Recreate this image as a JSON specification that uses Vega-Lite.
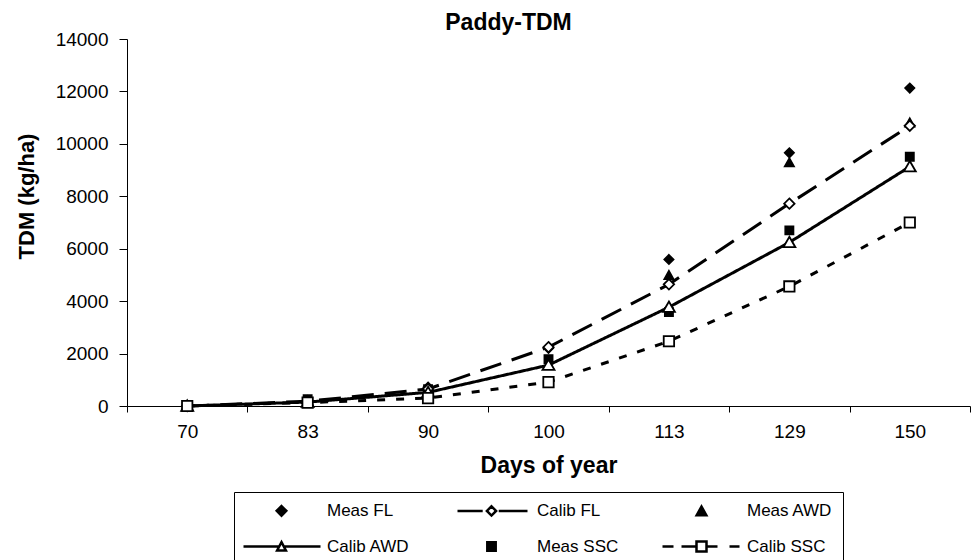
{
  "$schema": "https://vega.github.io/schema/vega-lite/v6.json",
  "width": 843,
  "height": 367,
  "autosize": {"type": "none"},
  "padding": {"left": 127, "top": 39, "right": 4, "bottom": 154},
  "background": "white",
  "config": {"view": {"stroke": null}, "font": "Liberation Sans"},
  "title": {"text": "Paddy-TDM", "fontSize": 23, "fontWeight": "bold", "font": "Liberation Sans", "color": "black", "anchor": "middle", "frame": "group", "dx": -40, "offset": -23, "baseline": "alphabetic"},
  "data": {"values": [
    {"day": 70, "series": "Meas FL", "tdm": 0},
    {"day": 83, "series": "Meas FL", "tdm": 200},
    {"day": 90, "series": "Meas FL", "tdm": 720},
    {"day": 100, "series": "Meas FL", "tdm": 2200},
    {"day": 113, "series": "Meas FL", "tdm": 5590},
    {"day": 129, "series": "Meas FL", "tdm": 9660},
    {"day": 150, "series": "Meas FL", "tdm": 12130},
    {"day": 70, "series": "Calib FL", "tdm": 0},
    {"day": 83, "series": "Calib FL", "tdm": 180},
    {"day": 90, "series": "Calib FL", "tdm": 650},
    {"day": 100, "series": "Calib FL", "tdm": 2245},
    {"day": 113, "series": "Calib FL", "tdm": 4640},
    {"day": 129, "series": "Calib FL", "tdm": 7720},
    {"day": 150, "series": "Calib FL", "tdm": 10690},
    {"day": 70, "series": "Meas AWD", "tdm": 0},
    {"day": 83, "series": "Meas AWD", "tdm": 180},
    {"day": 90, "series": "Meas AWD", "tdm": 650},
    {"day": 100, "series": "Meas AWD", "tdm": 1580},
    {"day": 113, "series": "Meas AWD", "tdm": 4980},
    {"day": 129, "series": "Meas AWD", "tdm": 9280},
    {"day": 150, "series": "Meas AWD", "tdm": 10800},
    {"day": 70, "series": "Calib AWD", "tdm": 0},
    {"day": 83, "series": "Calib AWD", "tdm": 150},
    {"day": 90, "series": "Calib AWD", "tdm": 520},
    {"day": 100, "series": "Calib AWD", "tdm": 1560},
    {"day": 113, "series": "Calib AWD", "tdm": 3770},
    {"day": 129, "series": "Calib AWD", "tdm": 6240},
    {"day": 150, "series": "Calib AWD", "tdm": 9130},
    {"day": 70, "series": "Meas SSC", "tdm": 0},
    {"day": 83, "series": "Meas SSC", "tdm": 260},
    {"day": 90, "series": "Meas SSC", "tdm": 640},
    {"day": 100, "series": "Meas SSC", "tdm": 1790},
    {"day": 113, "series": "Meas SSC", "tdm": 3580},
    {"day": 129, "series": "Meas SSC", "tdm": 6700},
    {"day": 150, "series": "Meas SSC", "tdm": 9510},
    {"day": 70, "series": "Calib SSC", "tdm": 0},
    {"day": 83, "series": "Calib SSC", "tdm": 130},
    {"day": 90, "series": "Calib SSC", "tdm": 300},
    {"day": 100, "series": "Calib SSC", "tdm": 910},
    {"day": 113, "series": "Calib SSC", "tdm": 2470},
    {"day": 129, "series": "Calib SSC", "tdm": 4560},
    {"day": 150, "series": "Calib SSC", "tdm": 7000}
  ]},
  "encoding": {
    "x": {
      "field": "day", "type": "ordinal",
      "scale": {"type": "band", "paddingInner": 0, "paddingOuter": 0},
      "axis": {
        "title": "Days of year", "titleFontSize": 23, "titleFontWeight": "bold", "titleColor": "black", "titleFont": "Liberation Sans",
        "titleBaseline": "alphabetic", "titleY": 66,
        "labelFontSize": 19, "labelFont": "Liberation Sans", "labelColor": "black", "labelAngle": 0,
        "labelBaseline": "alphabetic", "labelPadding": 25,
        "tickBand": "extent", "tickSize": 6, "tickColor": "black", "domainColor": "black", "grid": false
      }
    },
    "y": {
      "field": "tdm", "type": "quantitative",
      "scale": {"domain": [0, 14000], "nice": false},
      "axis": {
        "title": "TDM (kg/ha)", "titleFontSize": 22, "titleFontWeight": "bold", "titleColor": "black", "titleFont": "Liberation Sans",
        "titleBaseline": "alphabetic", "titleX": -94, "titleY": 157,
        "values": [0, 2000, 4000, 6000, 8000, 10000, 12000, 14000], "format": "d",
        "labelFontSize": 19, "labelFont": "Liberation Sans", "labelColor": "black", "labelPadding": 11,
        "tickSize": 8, "tickColor": "black", "domainColor": "black", "grid": false
      }
    }
  },
  "layer": [
    {
      "transform": [{"filter": "indexof(datum.series, 'Calib') == 0"}],
      "mark": {"type": "line", "color": "black", "strokeWidth": 3},
      "encoding": {
        "detail": {"field": "series", "type": "nominal"},
        "strokeDash": {"field": "series", "type": "nominal", "legend": null,
          "scale": {"domain": ["Calib FL", "Calib AWD", "Calib SSC"], "range": [[22, 11], [1, 0], [8, 11]]}}
      }
    },
    {
      "transform": [{"filter": "indexof(datum.series, 'Meas') == 0"}],
      "mark": {"type": "point", "filled": true, "size": 64, "opacity": 1, "strokeWidth": 1.5},
      "encoding": {
        "shape": {"field": "series", "type": "nominal",
          "scale": {
            "domain": ["Meas FL", "Calib FL", "Meas AWD", "Calib AWD", "Meas SSC", "Calib SSC"],
            "range": [
              "M-9.75,0M9.75,0M0,-1.2L1.2,0L0,1.2L-1.2,0Z",
              "M-9.75,0M9.75,0M-8.5,0L-2.2,0M1.8,0L9,0M0,-1.15L1.15,0L0,1.15L-1.15,0Z",
              "M-9.75,0M9.75,0M0,-1.2L1.2,0.95L-1.2,0.95Z",
              "M-9.75,0M9.75,0M-9.5,0L-0.6,0M0.6,0L9.75,0M0,-1.1L1.1,1L-1.1,1Z",
              "M-9.75,0M9.75,0M-1.05,-1.05L1.05,-1.05L1.05,1.05L-1.05,1.05Z",
              "M9.75,0M-9.75,0L-7,0M-5,0L-1.25,0M1.25,0L4,0M7,0L9.5,0M-1.25,-1.25L1.25,-1.25L1.25,1.25L-1.25,1.25Z"
            ]
          },
          "legend": {"title": null, "orient": "none", "legendX": 107, "legendY": 453, "columns": 3, "direction": "horizontal",
            "padding": 10, "strokeColor": "black", "fillColor": "white",
            "labelFontSize": 17, "labelFont": "Liberation Sans", "labelColor": "black", "labelOffset": 37, "symbolOffset": 29,
            "symbolSize": 64, "gridAlign": "all", "columnPadding": 34, "rowPadding": 15,
            "symbolStrokeColor": "black", "symbolStrokeWidth": 2.5}
        },
        "fill": {"field": "series", "type": "nominal",
          "scale": {
            "domain": ["Meas FL", "Calib FL", "Meas AWD", "Calib AWD", "Meas SSC", "Calib SSC"],
            "range": ["black", "white", "black", "white", "black", "white"]
          },
          "legend": {"title": null, "orient": "none", "legendX": 107, "legendY": 453, "columns": 3, "direction": "horizontal",
            "padding": 10, "strokeColor": "black", "fillColor": "white",
            "labelFontSize": 17, "labelFont": "Liberation Sans", "labelColor": "black", "labelOffset": 37, "symbolOffset": 29,
            "symbolSize": 64, "gridAlign": "all", "columnPadding": 34, "rowPadding": 15,
            "symbolStrokeColor": "black", "symbolStrokeWidth": 2.5}
        },
        "stroke": {"field": "series", "type": "nominal",
          "scale": {
            "domain": ["Meas FL", "Calib FL", "Meas AWD", "Calib AWD", "Meas SSC", "Calib SSC"],
            "range": ["black", "black", "black", "black", "black", "black"]
          },
          "legend": {"title": null, "orient": "none", "legendX": 107, "legendY": 453, "columns": 3, "direction": "horizontal",
            "padding": 10, "strokeColor": "black", "fillColor": "white",
            "labelFontSize": 17, "labelFont": "Liberation Sans", "labelColor": "black", "labelOffset": 37, "symbolOffset": 29,
            "symbolSize": 64, "gridAlign": "all", "columnPadding": 34, "rowPadding": 15,
            "symbolStrokeColor": "black", "symbolStrokeWidth": 2.5}
        }
      }
    },
    {
      "transform": [{"filter": "datum.series == 'Calib FL'"}],
      "mark": {"type": "point", "filled": true, "fill": "white", "stroke": "black", "strokeWidth": 1.8, "opacity": 1, "size": 64,
        "shape": "M0,-1.3L1.3,0L0,1.3L-1.3,0Z"}
    },
    {
      "transform": [{"filter": "datum.series == 'Calib AWD'"}],
      "mark": {"type": "point", "filled": true, "fill": "white", "stroke": "black", "strokeWidth": 1.8, "opacity": 1, "size": 64,
        "shape": "M0,-1.4L1.5,1.2L-1.5,1.2Z"}
    },
    {
      "transform": [{"filter": "datum.series == 'Calib SSC'"}],
      "mark": {"type": "point", "filled": true, "fill": "white", "stroke": "black", "strokeWidth": 1.8, "opacity": 1, "size": 64,
        "shape": "M-1.3,-1.3L1.3,-1.3L1.3,1.3L-1.3,1.3Z"}
    }
  ]
}
